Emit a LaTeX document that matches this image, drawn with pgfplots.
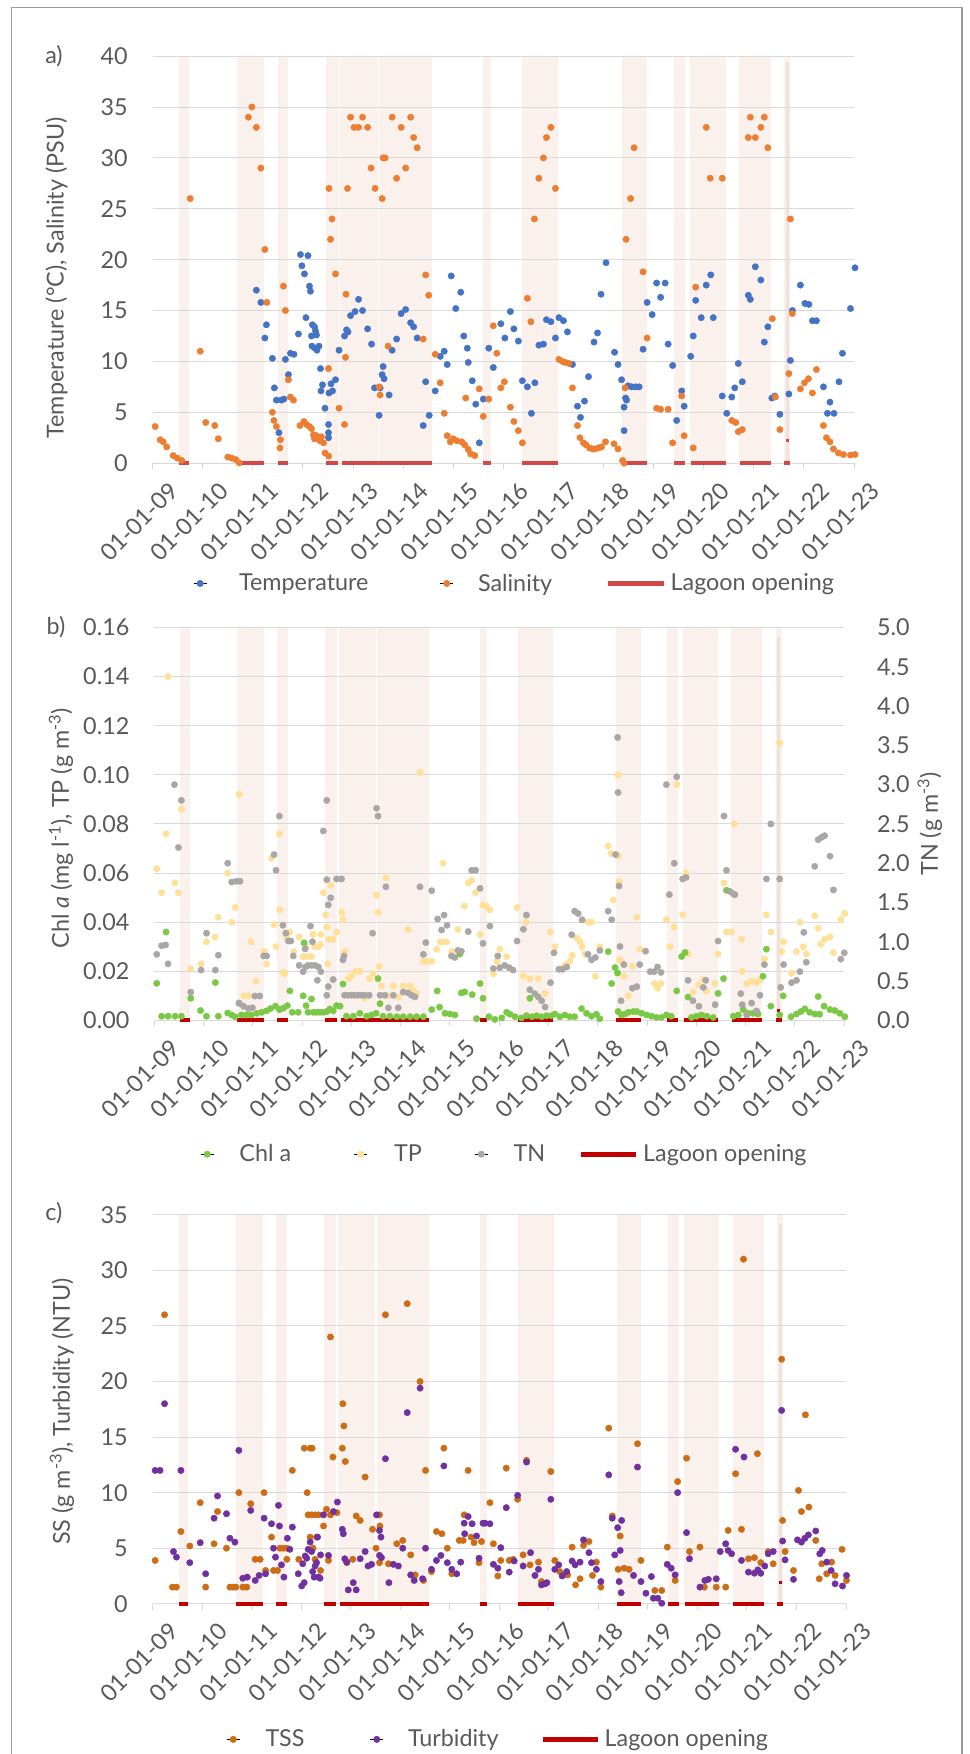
\documentclass[border=0pt]{standalone}
\usepackage{fontspec}
\setmainfont{Lato}
\usepackage{pgfplots}
\pgfplotsset{compat=1.18}
\definecolor{textgray}{RGB}{89,89,89}
\definecolor{gridc}{RGB}{217,217,217}
\definecolor{bandc}{RGB}{250,240,236}
\definecolor{bandd}{RGB}{242,224,218}
\definecolor{blueT}{RGB}{68,114,196}
\definecolor{orangeS}{RGB}{237,125,49}
\definecolor{redA}{RGB}{208,72,72}
\definecolor{redB}{RGB}{192,0,0}
\definecolor{greenC}{RGB}{122,200,70}
\definecolor{yellowP}{RGB}{255,224,150}
\definecolor{grayN}{RGB}{170,166,166}
\definecolor{orangeT}{RGB}{204,108,20}
\definecolor{purpleT}{RGB}{112,48,160}
\definecolor{framec}{RGB}{155,155,155}
\newcommand{\fs}{\fontsize{17.5}{21}\selectfont}
\newcommand{\band}[3]{\addplot[fill=bandc,draw=none,forget plot,on layer=axis background] coordinates {(#1,#3)(#2,#3)} \closedcycle;}
\newcommand{\allbands}[1]{%
\band{2009.53}{2009.72}{#1}\band{2010.68}{2011.22}{#1}\band{2011.50}{2011.71}{#1}%
\band{2012.46}{2012.71}{#1}\band{2012.74}{2013.49}{#1}\band{2013.52}{2014.57}{#1}%
\band{2015.60}{2015.76}{#1}\band{2016.37}{2017.10}{#1}\band{2018.37}{2018.87}{#1}%
\band{2019.41}{2019.63}{#1}\band{2019.73}{2020.44}{#1}\band{2020.71}{2021.34}{#1}%
\band{2021.61}{2021.73}{#1}}
\newcommand{\thinband}[1]{\addplot[fill=bandd,draw=none,forget plot,on layer=axis background] coordinates {(2021.645,#1)(2021.70,#1)} \closedcycle;}
\newcommand{\redline}[1]{\addplot[#1, line width=3pt, forget plot, unbounded coords=jump] coordinates {
(2009.53,0)(2009.72,0)(2009.72,nan)(2010.68,0)(2011.22,0)(2011.22,nan)(2011.50,0)(2011.71,0)(2011.71,nan)
(2012.46,0)(2012.70,0)(2012.70,nan)(2012.78,0)(2014.57,0)(2014.57,nan)(2015.60,0)(2015.76,0)(2015.76,nan)
(2016.37,0)(2017.10,0)(2017.10,nan)(2018.37,0)(2018.87,0)(2018.87,nan)(2019.41,0)(2019.62,0)(2019.62,nan)
(2019.75,0)(2020.44,0)(2020.44,nan)(2020.72,0)(2021.34,0)(2021.34,nan)(2021.61,0)(2021.73,0)};}
\pgfplotsset{
 base/.style={
  scale only axis, anchor=south west, clip=false, set layers=standard,
  xmin=2009, xmax=2023,
  xtick={2009,2010,...,2023},
  xticklabels={01-01-09,01-01-10,01-01-11,01-01-12,01-01-13,01-01-14,01-01-15,01-01-16,01-01-17,01-01-18,01-01-19,01-01-20,01-01-21,01-01-22,01-01-23},
  axis x line*=bottom, axis y line*=left,
  y axis line style={draw=none}, ytick style={draw=none},
  x axis line style={gridc, line width=0.75pt},
  xtick style={gridc, line width=0.75pt},
  tick align=outside, major tick length=4.5pt,
  ymajorgrids, grid style={gridc, line width=0.75pt},
  tick label style={font=\fs, text=textgray},
  label style={font=\fs, text=textgray},
  xticklabel style={rotate=45, anchor=north east, inner sep=0pt, xshift=2pt, yshift=-14pt},
  yticklabel style={anchor=east, inner sep=0pt, xshift=-14pt},
  /pgf/number format/assume math mode=true,
  legend columns=-1, legend cell align=left,
 },
 dot/.style={only marks, mark=*, mark size=2.4pt, color=#1, mark options={solid, fill=#1, draw=#1, line width=0.3pt}},
 leg/.style 2 args={legend style={at={(#1,#2)}, anchor=west, draw=none, fill=none, inner sep=0pt, outer sep=0pt, nodes={inner sep=0pt, text=textgray, font=\fs}}},
}
\newcommand{\dotimg}[1]{\addlegendimage{legend image code/.code={\path (-5pt,0pt) -- (5pt,0pt); \fill[#1] (0pt,0pt) circle (2.4pt);}}}
\newcommand{\lineimg}[2]{\addlegendimage{legend image code/.code={\draw[#1, line width=3.5pt] (0pt,0pt) -- (#2,0pt);}}}
\begin{document}
\begin{tikzpicture}
\draw[framec, line width=1pt] (8.5pt,-2pt) -- (8.5pt,1309.8pt) -- (721.5pt,1309.8pt) -- (721.5pt,-2pt);
% ---------------- panel a
\begin{axis}[base, at={(114.5pt,968.1pt)}, width=526pt, height=305.3pt,
 ymin=0, ymax=40, ytick={0,5,...,40},
 ylabel={Temperature (°C), Salinity (PSU)},
 ylabel style={at={(axis description cs:-0.137,0.455)}, anchor=center},
 leg={0.0579}{-0.2955}]
\allbands{40}
\thinband{39.4}
\dotimg{blueT}\addlegendentry{\makebox[174.5pt][l]{\hspace{24pt}Temperature}}
\dotimg{orangeS}\addlegendentry{\makebox[114.25pt][l]{\hspace{18.25pt}Salinity}}
\lineimg{redA}{42pt}\addlegendentry{\hspace{3pt}Lagoon opening}
\addplot[dot=blueT, forget plot] coordinates {
(2011.07,17.0)(2011.16,15.8)(2011.24,12.3)(2011.27,13.6)(2011.39,10.3)(2011.43,7.4)(2011.47,6.2)(2011.57,6.2)(2011.62,6.3)(2011.52,3.0)(2011.65,10.2)(2011.71,8.7)(2011.75,10.8)(2011.82,10.7)(2011.91,12.7)(2011.95,20.5)(2011.98,19.4)(2012.03,18.6)(2012.06,14.3)(2012.10,20.4)(2012.13,17.4)(2012.15,16.9)(2012.17,12.5)(2012.19,13.6)(2012.23,13.4)(2012.25,13.0)(2012.27,12.6)(2012.18,11.5)(2012.24,11.3)(2012.28,11.1)(2012.32,11.5)(2012.35,9.3)(2012.36,7.1)(2012.39,7.7)(2012.44,5.4)(2012.51,3.8)(2012.51,3.0)(2012.51,2.5)(2012.52,6.9)(2012.56,7.8)(2012.59,7.1)(2012.65,8.2)(2012.72,11.1)(2012.83,12.5)(2012.87,13.1)(2012.90,12.9)(2012.95,14.5)(2013.04,14.9)(2013.11,16.1)(2013.19,15.0)(2013.29,13.2)(2013.37,11.7)(2013.43,7.4)(2013.52,4.7)(2013.54,7.4)(2013.58,8.7)(2013.60,9.5)(2013.62,8.3)(2013.72,6.7)(2013.78,11.1)(2013.87,12.2)(2013.96,14.7)(2014.05,15.1)(2014.15,13.8)(2014.21,13.4)(2014.28,12.3)(2014.40,3.7)(2014.45,8.0)(2014.52,4.7)(2014.64,7.1)(2014.74,10.5)(2014.82,11.0)(2014.88,9.7)(2014.96,18.4)(2015.05,15.2)(2015.15,16.8)(2015.21,12.5)(2015.28,11.3)(2015.30,9.9)(2015.38,8.1)(2015.45,5.8)(2015.52,2.0)(2015.60,6.3)
(2015.71,11.3)(2015.80,9.4)(2015.95,13.7)(2016.03,12.3)(2016.14,14.9)(2016.21,13.2)(2016.30,12.0)(2016.38,8.1)(2016.48,7.5)(2016.63,7.9)(2016.56,4.9)(2016.71,11.6)(2016.80,11.7)(2016.86,14.1)(2016.95,13.9)(2017.04,12.3)(2017.11,14.3)(2017.20,14.0)(2017.28,12.9)(2017.38,9.7)(2017.48,5.6)(2017.54,4.5)(2017.62,6.1)(2017.70,8.5)(2017.81,11.9)(2017.88,12.8)(2017.95,16.6)(2018.05,19.7)(2018.22,10.9)(2018.29,9.7)(2018.36,8.2)(2018.41,3.2)(2018.41,5.5)(2018.44,6.4)(2018.46,6.2)(2018.49,7.6)(2018.56,7.5)(2018.64,7.5)(2018.71,7.5)(2018.79,11.2)(2018.87,15.8)(2018.97,14.6)(2019.06,17.7)(2019.14,16.3)(2019.23,17.7)(2019.29,11.7)(2019.38,9.6)(2019.46,4.2)(2019.56,7.1)(2019.61,5.6)(2019.74,10.5)(2019.79,12.5)(2019.84,16.0)(2019.95,14.3)(2020.05,17.5)(2020.14,18.5)(2020.19,14.3)(2020.37,6.6)(2020.46,4.9)(2020.56,6.5)(2020.62,7.4)(2020.69,9.8)(2020.77,8.0)(2020.89,16.5)(2020.93,16.1)(2021.03,19.3)(2021.14,18.0)(2021.21,11.9)(2021.28,13.4)(2021.36,6.4)(2021.42,6.6)(2021.52,4.8)(2021.70,6.8)(2021.73,10.1)(2021.77,15.0)(2021.93,17.5)(2022.02,15.7)(2022.10,15.6)(2022.17,14.0)(2022.25,14.0)(2022.39,7.5)(2022.47,4.9)(2022.52,6.0)(2022.60,4.9)(2022.70,8.0)(2022.77,10.8)(2022.93,15.2)(2023.02,19.2)};
\addplot[dot=orangeS, forget plot] coordinates {
(2009.05,3.6)(2009.15,2.3)(2009.21,2.1)(2009.28,1.6)(2009.41,0.75)(2009.49,0.5)(2009.58,0.27)(2009.75,26)(2009.95,11)(2010.06,4.0)(2010.24,3.7)(2010.31,2.4)(2010.50,0.6)(2010.58,0.5)(2010.66,0.35)(2010.73,0.03)(2010.91,34)(2010.98,35)(2011.07,33)(2011.16,29)(2011.24,21)(2011.28,15.8)(2011.39,5.0)(2011.42,4.2)(2011.47,3.6)(2011.55,2.3)(2011.54,1.5)(2011.61,17.4)(2011.65,15.0)(2011.71,8.2)(2011.75,6.5)(2011.81,6.2)(2011.94,3.7)(2012.02,4.1)(2012.07,3.8)(2012.13,3.6)(2012.17,3.4)(2012.21,2.8)(2012.23,2.4)(2012.27,2.7)(2012.31,2.4)(2012.34,2.2)(2012.37,2.6)(2012.41,2.0)(2012.44,1.0)(2012.51,0.7)(2012.51,9.3)(2012.52,27)(2012.55,22)(2012.58,24)(2012.65,18.6)(2012.72,5.4)(2012.83,3.8)(2012.85,10.4)(2012.86,16.6)(2012.89,27)(2012.95,34)(2013.02,33)(2013.11,33)(2013.19,34)(2013.29,33)(2013.36,29)(2013.44,27)(2013.52,7.5)(2013.54,6.7)(2013.58,26)(2013.60,30)(2013.64,30)(2013.70,11.5)(2013.78,34)(2013.87,28)(2013.96,33)(2014.05,29)(2014.15,34)(2014.21,32)(2014.28,31)(2014.40,12.2)(2014.45,18.5)(2014.51,16.5)(2014.64,10.7)(2014.74,7.9)(2014.82,4.9)(2014.88,2.7)(2014.94,2.1)(2015.00,2.4)(2015.07,2.2)(2015.17,2.1)(2015.23,1.8)(2015.30,1.35)(2015.35,0.9)(2015.43,0.75)(2015.25,6.4)(2015.52,7.3)(2015.60,4.6)
(2015.71,6.3)(2015.80,13.5)(2015.87,10.8)(2015.95,7.4)(2016.02,8.0)(2016.14,5.5)(2016.21,4.1)(2016.30,3.2)(2016.38,2.0)(2016.48,16.2)(2016.55,13.9)(2016.62,24)(2016.71,28)(2016.80,30)(2016.86,32)(2016.95,33)(2017.04,27)(2017.11,10.2)(2017.18,10.0)(2017.24,9.9)(2017.31,9.8)(2017.38,7.4)(2017.48,3.7)(2017.53,2.5)(2017.60,2.0)(2017.65,1.8)(2017.72,1.5)(2017.78,1.4)(2017.83,1.4)(2017.90,1.5)(2017.96,1.6)(2018.04,2.1)(2018.21,1.9)(2018.29,1.4)(2018.38,0.27)(2018.41,0.0)(2018.43,7.4)(2018.45,22)(2018.54,26)(2018.61,31)(2018.79,18.8)(2018.87,12.3)(2019.06,5.4)(2019.14,5.3)(2019.29,5.3)(2019.38,2.0)(2019.56,6.6)(2019.61,2.7)(2019.79,1.5)(2019.84,17.3)(2020.05,33)(2020.13,28)(2020.37,28)(2020.56,4.2)(2020.64,4.0)(2020.69,3.1)(2020.77,3.3)(2020.89,32)(2020.93,34)(2021.03,32)(2021.14,33)(2021.21,34)(2021.28,31)(2021.37,14.2)(2021.43,6.5)(2021.52,3.3)(2021.70,8.8)(2021.73,24)(2021.77,14.7)(2021.93,7.3)(2022.01,7.9)(2022.09,8.3)(2022.17,6.9)(2022.25,9.2)(2022.39,3.7)(2022.45,2.5)(2022.52,2.1)(2022.59,1.4)(2022.69,1.0)(2022.79,0.85)(2022.93,0.8)(2023.02,0.85)};
\redline{redA}
\addplot[redA, line width=2pt, forget plot] coordinates {(2021.645,2.2)(2021.70,2.2)};
\node[font=\fs, text=textgray] at (axis description cs:-0.1407,1.0) {a)};
\end{axis}
% ---------------- panel b
\begin{axis}[base, at={(115.7pt,550.2pt)}, width=517.5pt, height=294.7pt,
 ymin=0, ymax=0.16, ytick={0,0.02,0.04,0.06,0.08,0.10,0.12,0.14,0.16},
 yticklabel style={/pgf/number format/.cd, fixed, fixed zerofill, precision=2},
 ylabel={Chl \textit{a} (mg l\textsuperscript{-1}), TP (g m\textsuperscript{-3})},
 ylabel style={at={(axis description cs:-0.1352,0.489)}, anchor=center},
 leg={0.0667}{-0.3405}]
\allbands{0.16}
\thinband{0.156}
\dotimg{greenC}\addlegendentry{\makebox[104.75pt][l]{\hspace{19pt}Chl a}}
\dotimg{yellowP}\addlegendentry{\makebox[80pt][l]{\hspace{19.75pt}TP}}
\dotimg{grayN}\addlegendentry{\makebox[67.75pt][l]{\hspace{19pt}TN}}
\lineimg{redB}{41.25pt}\addlegendentry{\hspace{3.75pt}Lagoon opening}
\addplot[dot=yellowP, forget plot] coordinates {
(2009.05,0.0618)(2009.15,0.052)(2009.24,0.076)(2009.28,0.140)(2009.42,0.056)(2009.49,0.052)(2009.55,0.086)(2009.74,0.021)(2009.95,0.023)(2010.06,0.032)(2010.23,0.034)(2010.30,0.042)(2010.49,0.060)(2010.57,0.040)(2010.64,0.046)(2010.72,0.092)(2010.82,0.010)(2010.91,0.010)(2010.96,0.032)(2011.06,0.016)(2011.23,0.028)(2011.28,0.023)(2011.38,0.066)(2011.43,0.039)(2011.47,0.030)(2011.54,0.076)(2011.55,0.045)(2011.62,0.0196)(2011.65,0.019)(2011.68,0.034)(2011.75,0.036)(2011.83,0.028)(2011.94,0.034)(2012.02,0.026)(2012.05,0.026)(2012.08,0.030)(2012.12,0.026)(2012.19,0.026)(2012.22,0.035)(2012.26,0.030)(2012.33,0.030)(2012.37,0.031)(2012.38,0.035)(2012.43,0.052)(2012.48,0.043)(2012.50,0.038)(2012.52,0.023)(2012.54,0.033)(2012.58,0.055)(2012.63,0.033)(2012.70,0.036)(2012.80,0.044)(2012.83,0.041)(2012.87,0.028)(2012.94,0.017)(2013.00,0.018)(2013.09,0.020)(2013.17,0.020)(2013.27,0.009)(2013.37,0.017)(2013.44,0.019)(2013.51,0.051)(2013.54,0.044)(2013.56,0.022)(2013.61,0.014)(2013.70,0.058)(2013.75,0.010)(2013.85,0.014)(2013.95,0.0095)(2014.05,0.014)(2014.15,0.037)(2014.19,0.014)(2014.25,0.012)(2014.32,0.011)(2014.39,0.101)(2014.46,0.024)(2014.53,0.024)(2014.63,0.024)(2014.73,0.029)(2014.80,0.032)(2014.86,0.064)(2014.87,0.032)(2014.93,0.032)(2015.03,0.028)(2015.16,0.037)(2015.29,0.0465)(2015.37,0.056)(2015.44,0.057)(2015.52,0.052)(2015.61,0.035)(2015.67,0.047)
(2015.74,0.0465)(2015.81,0.045)(2015.88,0.019)(2015.95,0.024)(2016.01,0.029)(2016.15,0.026)(2016.22,0.021)(2016.36,0.046)(2016.49,0.018)(2016.55,0.040)(2016.62,0.017)(2016.79,0.017)(2016.93,0.011)(2017.04,0.036)(2017.13,0.030)(2017.33,0.0225)(2017.43,0.024)(2017.48,0.0265)(2017.57,0.0335)(2017.64,0.032)(2017.68,0.030)(2017.74,0.027)(2017.80,0.040)(2017.87,0.040)(2017.95,0.018)(2018.04,0.030)(2018.21,0.071)(2018.27,0.068)(2018.31,0.049)(2018.41,0.100)(2018.42,0.067)(2018.43,0.0565)(2018.44,0.0247)(2018.48,0.024)(2018.53,0.018)(2018.62,0.010)(2018.70,0.022)(2018.79,0.042)(2018.85,0.029)(2019.15,0.015)(2019.21,0.013)(2019.28,0.015)(2019.39,0.041)(2019.46,0.030)(2019.55,0.038)(2019.60,0.096)(2019.72,0.043)(2019.79,0.060)(2019.83,0.027)(2019.93,0.0116)(2020.04,0.0145)(2020.14,0.0167)(2020.20,0.012)(2020.38,0.015)(2020.44,0.027)(2020.56,0.056)(2020.61,0.036)(2020.71,0.036)(2020.77,0.080)(2020.92,0.033)(2020.93,0.020)(2021.02,0.015)(2021.12,0.016)(2021.22,0.0155)(2021.29,0.0165)(2021.38,0.025)(2021.42,0.043)(2021.51,0.036)(2021.69,0.113)(2021.73,0.028)(2021.77,0.032)(2021.93,0.0192)(2022.03,0.028)(2022.10,0.040)(2022.17,0.030)(2022.23,0.027)(2022.40,0.0426)(2022.47,0.0375)(2022.52,0.031)(2022.60,0.033)(2022.71,0.034)(2022.78,0.0276)(2022.93,0.041)(2023.01,0.0436)};
\addplot[dot=greenC, forget plot] coordinates {
(2009.05,0.0151)(2009.15,0.0017)(2009.24,0.036)(2009.28,0.0017)(2009.42,0.0017)(2009.55,0.0017)(2009.74,0.009)(2009.94,0.004)(2010.06,0.0017)(2010.24,0.0154)(2010.30,0.0017)(2010.49,0.003)(2010.57,0.0022)(2010.64,0.0015)(2010.72,0.007)(2010.77,0.0022)(2010.87,0.0022)(2010.97,0.0022)(2011.08,0.0029)(2011.18,0.0033)(2011.28,0.0039)(2011.36,0.0048)(2011.46,0.0058)(2011.54,0.0044)(2011.62,0.005)(2011.70,0.006)(2011.75,0.012)(2011.80,0.0033)(2011.92,0.0033)(2012.02,0.010)(2012.04,0.0316)(2012.08,0.006)(2012.12,0.0033)(2012.19,0.0087)(2012.23,0.0033)(2012.29,0.0033)(2012.36,0.0033)(2012.43,0.0033)(2012.50,0.0036)(2012.56,0.0046)(2012.63,0.0039)(2012.70,0.006)(2012.77,0.0058)(2012.83,0.0148)(2012.90,0.0017)(2013.04,0.0017)(2013.17,0.0029)(2013.31,0.0017)(2013.41,0.0022)(2013.50,0.0029)(2013.54,0.017)(2013.58,0.0068)(2013.64,0.0017)(2013.78,0.0017)(2013.92,0.0015)(2014.05,0.0015)(2014.19,0.0015)(2014.32,0.0015)(2014.46,0.0015)(2014.63,0.0044)(2014.74,0.012)(2014.79,0.0054)(2014.90,0.0029)(2015.00,0.0026)(2015.10,0.0022)(2015.20,0.027)(2015.23,0.0112)(2015.30,0.0116)(2015.45,0.0105)(2015.54,0.0007)(2015.61,0.015)(2015.67,0.009)
(2015.79,0.0015)(2015.91,0.0004)(2016.05,0.001)(2016.15,0.0033)(2016.22,0.0025)(2016.32,0.0015)(2016.45,0.001)(2016.55,0.0019)(2016.62,0.009)(2016.66,0.0015)(2016.76,0.0019)(2016.86,0.0015)(2016.96,0.0019)(2017.06,0.0019)(2017.13,0.0026)(2017.23,0.0015)(2017.33,0.0022)(2017.43,0.0015)(2017.53,0.0015)(2017.67,0.0048)(2017.77,0.0029)(2017.87,0.0017)(2017.97,0.0025)(2018.04,0.0007)(2018.21,0.028)(2018.28,0.015)(2018.35,0.0215)(2018.40,0.0193)(2018.41,0.0036)(2018.48,0.0022)(2018.55,0.0026)(2018.62,0.0033)(2018.72,0.0036)(2018.79,0.0036)(2018.89,0.0029)(2018.99,0.0022)(2019.09,0.0017)(2019.19,0.0012)(2019.29,0.0012)(2019.39,0.0022)(2019.49,0.0017)(2019.60,0.012)(2019.70,0.026)(2019.77,0.0277)(2019.83,0.0095)(2019.90,0.0012)(2020.00,0.0017)(2020.10,0.0022)(2020.21,0.0017)(2020.34,0.0012)(2020.44,0.011)(2020.55,0.017)(2020.61,0.053)(2020.75,0.0017)(2020.85,0.0022)(2020.95,0.0044)(2021.05,0.0029)(2021.15,0.0029)(2021.25,0.0026)(2021.35,0.018)(2021.42,0.029)(2021.51,0.0058)(2021.69,0.0022)(2021.76,0.010)(2021.92,0.0015)(2022.03,0.0026)(2022.12,0.0036)(2022.20,0.0047)(2022.30,0.0033)(2022.40,0.0026)(2022.47,0.0097)(2022.50,0.0025)(2022.59,0.0058)(2022.71,0.0044)(2022.81,0.004)(2022.91,0.0029)(2023.01,0.0015)};
\redline{redB}
\addplot[redB, line width=2pt, forget plot] coordinates {(2021.645,0.004)(2021.70,0.004)};
\node[font=\fs, text=textgray] at (axis description cs:-0.1425,1.0) {b)};
\end{axis}
\begin{axis}[scale only axis, anchor=south west, clip=false,
 at={(115.7pt,550.2pt)}, width=517.5pt, height=294.7pt,
 xmin=2009, xmax=2023, hide x axis,
 axis y line*=right, y axis line style={draw=none}, ytick style={draw=none},
 ymin=0, ymax=5, ytick={0,0.5,1,1.5,2,2.5,3,3.5,4,4.5,5},
 tick align=outside, major tick length=4.5pt,
 tick label style={font=\fs, text=textgray},
 yticklabel style={anchor=west, inner sep=0pt, xshift=20pt, /pgf/number format/.cd, fixed, fixed zerofill, precision=1, assume math mode=true},
 ylabel={TN (g m\textsuperscript{-3})},
 ylabel style={font=\fs, text=textgray, at={(axis description cs:1.124,0.5)}, anchor=center}]
\addplot[dot=grayN] coordinates {
(2009.05,0.84)(2009.15,0.95)(2009.23,0.96)(2009.28,0.72)(2009.41,3.0)(2009.49,2.2)(2009.55,2.8)(2009.74,0.36)(2009.95,0.64)(2010.06,1.11)(2010.24,0.64)(2010.30,0.83)(2010.49,2.0)(2010.57,1.76)(2010.66,1.77)(2010.74,1.77)(2010.72,0.22)(2010.81,0.18)(2010.91,0.15)(2010.99,0.16)(2011.04,0.31)(2011.14,0.31)(2011.22,0.82)(2011.28,0.82)(2011.43,2.11)(2011.47,1.91)(2011.54,2.6)(2011.61,1.21)(2011.67,1.11)(2011.72,1.01)(2011.77,1.01)(2011.82,0.82)(2011.94,0.70)(2012.02,0.62)(2012.06,0.91)(2012.07,0.68)(2012.12,0.70)(2012.17,1.20)(2012.19,0.70)(2012.21,1.00)(2012.26,0.70)(2012.31,0.51)(2012.33,0.68)(2012.38,0.62)(2012.43,2.41)(2012.50,2.8)(2012.50,1.79)(2012.53,1.47)(2012.58,1.56)(2012.50,0.32)(2012.53,0.43)(2012.63,0.52)(2012.70,1.80)(2012.80,1.80)(2012.83,0.77)(2012.85,0.82)(2012.86,0.32)(2012.93,0.32)(2013.00,0.32)(2013.06,0.32)(2013.13,0.32)(2013.20,0.32)(2013.27,0.32)(2013.36,0.32)(2013.43,1.11)(2013.51,2.70)(2013.54,2.60)(2013.58,0.32)(2013.68,0.32)(2013.70,1.70)(2013.75,0.16)(2013.85,0.32)(2013.95,0.16)(2014.05,0.36)(2014.15,0.35)(2014.22,0.32)(2014.29,0.30)(2014.39,1.70)(2014.46,0.84)(2014.51,0.99)(2014.63,1.65)(2014.75,1.29)(2014.83,1.15)(2014.88,1.34)(2014.94,1.21)(2015.03,0.82)(2015.10,0.80)(2015.16,0.89)(2015.23,0.88)(2015.37,1.13)(2015.44,1.91)(2015.52,1.91)(2015.61,1.68)(2015.67,0.98)
(2015.81,1.20)(2015.88,0.66)(2015.97,0.82)(2016.01,0.67)(2016.11,0.70)(2016.20,0.67)(2016.28,0.64)(2016.36,1.01)(2016.49,1.16)(2016.55,1.34)(2016.62,0.39)(2016.72,0.34)(2016.79,0.30)(2016.86,0.25)(2016.93,0.17)(2017.04,0.48)(2017.11,0.86)(2017.21,0.65)(2017.28,0.65)(2017.37,0.68)(2017.47,1.09)(2017.53,1.39)(2017.60,1.36)(2017.68,1.28)(2017.80,0.84)(2017.87,0.77)(2017.95,0.80)(2018.04,0.89)(2018.21,1.39)(2018.28,1.28)(2018.36,2.11)(2018.40,3.6)(2018.41,2.9)(2018.43,1.71)(2018.45,0.94)(2018.47,0.25)(2018.53,0.71)(2018.70,0.41)(2018.79,0.43)(2018.85,0.71)(2018.97,0.88)(2019.06,0.62)(2019.14,0.62)(2019.21,0.68)(2019.28,0.61)(2019.39,3.0)(2019.45,1.6)(2019.55,2.0)(2019.60,3.1)(2019.72,1.80)(2019.79,1.82)(2019.83,0.51)(2019.93,0.25)(2020.05,0.18)(2020.14,0.42)(2020.19,0.51)(2020.38,0.20)(2020.44,1.01)(2020.56,2.60)(2020.61,1.91)(2020.68,1.64)(2020.75,1.61)(2020.78,1.60)(2020.90,0.34)(2020.93,0.20)(2021.02,0.07)(2021.12,0.22)(2021.22,0.12)(2021.29,0.32)(2021.38,0.71)(2021.42,1.80)(2021.51,2.5)(2021.69,1.80)(2021.71,0.42)(2021.77,0.71)(2021.93,0.48)(2022.03,0.51)(2022.10,0.62)(2022.18,1.12)(2022.23,0.74)(2022.40,1.96)(2022.47,2.30)(2022.54,2.33)(2022.60,2.35)(2022.71,2.09)(2022.78,1.66)(2022.93,0.78)(2023.00,0.86)};
\end{axis}
% ---------------- panel c
\begin{axis}[base, at={(114.5pt,112.65pt)}, width=520pt, height=291.8pt,
 ymin=0, ymax=35, ytick={0,5,...,35},
 ylabel={SS (g m\textsuperscript{-3}), Turbidity (NTU)},
 ylabel style={at={(axis description cs:-0.1308,0.494)}, anchor=center},
 leg={0.1062}{-0.3485}]
\allbands{35}
\thinband{34.3}
\dotimg{orangeT}\addlegendentry{\makebox[97.25pt][l]{\hspace{19pt}TSS}}
\dotimg{purpleT}\addlegendentry{\makebox[118pt][l]{\hspace{18.25pt}Turbidity}}
\lineimg{redB}{41.25pt}\addlegendentry{\hspace{3pt}Lagoon opening}
\addplot[dot=orangeT, forget plot] coordinates {
(2009.05,3.9)(2009.24,26)(2009.40,1.5)(2009.48,1.5)(2009.57,6.5)(2009.75,5.2)(2009.96,9.1)(2010.07,1.5)(2010.24,5.4)(2010.31,8.3)(2010.49,5.0)(2010.56,1.5)(2010.62,1.5)(2010.68,1.5)(2010.74,10)(2010.82,1.5)(2010.90,1.5)(2010.98,9.0)(2011.07,4.0)(2011.17,4.0)(2011.25,10)(2011.28,3.0)(2011.40,6.0)(2011.44,3.0)(2011.52,3.0)(2011.57,5.0)(2011.64,5.0)(2011.71,5.0)(2011.71,4.0)(2011.82,12)(2011.95,4.0)(2012.06,14)(2012.18,14)(2012.22,14)(2012.12,10)(2012.14,8.0)(2012.21,8.0)(2012.28,8.0)(2012.35,8.0)(2012.18,6.0)(2012.31,6.0)(2012.24,5.0)(2012.28,4.0)(2012.39,3.0)(2012.45,7.0)(2012.51,8.5)(2012.59,8.0)(2012.55,3.9)(2012.59,24)(2012.64,13.2)(2012.72,8.2)(2012.84,18)(2012.86,16)(2012.83,14)(2012.89,12.8)(2012.92,3.7)(2013.04,4.0)(2013.11,7.9)(2013.19,7.5)(2013.29,11.4)(2013.44,6.7)(2013.51,5.0)(2013.58,8.0)(2013.59,7.0)(2013.58,3.7)(2013.70,26)(2013.76,3.6)(2013.93,5.4)(2014.05,5.7)(2014.14,27)(2014.21,4.4)(2014.30,2.6)(2014.40,20)(2014.47,2.1)(2014.51,12)(2014.63,2.9)(2014.73,6.5)(2014.84,6.3)(2014.88,14)(2014.95,5.0)(2015.04,2.7)(2015.19,5.7)(2015.27,5.7)(2015.29,8.0)(2015.37,12)(2015.43,6.0)(2015.49,5.5)(2015.59,3.7)(2015.64,5.6)
(2015.81,9.1)(2015.88,5.4)(2015.97,2.5)(2016.03,3.9)(2016.14,12.2)(2016.20,3.9)(2016.28,4.0)(2016.37,9.4)(2016.48,4.4)(2016.55,12.9)(2016.62,3.5)(2016.79,3.75)(2016.85,2.0)(2016.92,1.8)(2017.04,11.9)(2017.12,3.9)(2017.22,2.9)(2017.29,2.6)(2017.38,2.6)(2017.47,5.1)(2017.54,1.7)(2017.63,2.25)(2017.70,5.25)(2017.81,5.6)(2017.88,2.55)(2017.96,3.75)(2018.05,1.5)(2018.21,15.8)(2018.28,7.9)(2018.44,6.1)(2018.40,3.1)(2018.52,3.2)(2018.62,3.1)(2018.79,14.4)(2018.86,3.9)(2019.14,1.2)(2019.28,1.2)(2019.39,5.1)(2019.55,2.1)(2019.60,11.0)(2019.78,13.1)(2019.84,4.7)(2020.05,5.1)(2020.14,1.5)(2020.38,1.5)(2020.57,1.5)(2020.62,6.6)(2020.77,11.7)(2020.89,6.7)(2020.93,31)(2021.03,4.05)(2021.15,4.15)(2021.21,13.5)(2021.28,3.7)(2021.43,4.7)(2021.53,3.6)(2021.70,22)(2021.72,7.5)(2021.77,4.7)(2021.94,3.0)(2022.04,10.2)(2022.10,8.3)(2022.18,17)(2022.25,8.7)(2022.39,5.7)(2022.46,2.25)(2022.51,3.6)(2022.61,2.7)(2022.71,3.75)(2022.78,2.55)(2022.92,4.9)(2023.01,2.1)};
\addplot[dot=purpleT, forget plot] coordinates {
(2009.05,12)(2009.15,12)(2009.24,18)(2009.42,4.7)(2009.48,4.2)(2009.57,12)(2009.75,3.7)(2009.96,5.5)(2010.07,2.7)(2010.24,7.7)(2010.31,9.7)(2010.49,8.1)(2010.56,5.9)(2010.66,5.55)(2010.74,13.8)(2010.82,2.3)(2010.91,2.4)(2010.98,8.4)(2011.07,2.1)(2011.15,2.55)(2011.25,7.7)(2011.28,2.7)(2011.40,7.2)(2011.44,5.0)(2011.48,4.2)(2011.54,8.85)(2011.56,7.0)(2011.60,3.5)(2011.65,2.4)(2011.72,5.9)(2011.77,4.9)(2011.82,6.9)(2011.94,2.7)(2012.01,1.6)(2012.06,1.9)(2012.03,3.6)(2012.08,4.3)(2012.11,4.1)(2012.14,4.9)(2012.18,5.55)(2012.21,4.7)(2012.23,2.9)(2012.26,2.4)(2012.28,3.4)(2012.31,3.7)(2012.33,6.0)(2012.35,2.4)(2012.38,2.3)(2012.39,4.4)(2012.45,8.0)(2012.55,4.35)(2012.65,8.3)(2012.73,9.15)(2012.83,6.7)(2012.85,6.3)(2012.88,4.05)(2012.92,3.75)(2012.95,1.25)(2013.05,1.9)(2013.11,1.25)(2013.19,4.05)(2013.29,4.7)(2013.35,3.4)(2013.42,3.55)(2013.52,8.0)(2013.58,6.6)(2013.61,6.0)(2013.58,4.35)(2013.62,4.15)(2013.70,13.05)(2013.77,1.9)(2013.86,3.55)(2013.96,3.4)(2014.05,5.0)(2014.14,17.2)(2014.21,2.6)(2014.28,2.1)(2014.40,19.4)(2014.45,2.25)(2014.51,5.0)(2014.63,3.1)(2014.73,3.9)(2014.82,4.35)(2014.88,12.4)(2014.95,3.7)(2015.04,3.1)(2015.14,2.7)(2015.22,3.75)(2015.29,7.25)(2015.30,6.3)(2015.37,7.85)(2015.45,7.2)(2015.54,6.1)(2015.59,4.1)(2015.67,7.25)
(2015.71,7.25)(2015.81,7.2)(2015.88,3.55)(2015.97,3.2)(2016.03,5.05)(2016.14,8.65)(2016.20,2.85)(2016.30,3.85)(2016.37,9.75)(2016.48,3.4)(2016.55,12.75)(2016.63,4.6)(2016.72,2.55)(2016.79,3.1)(2016.85,1.7)(2016.92,1.8)(2016.96,1.9)(2017.04,9.4)(2017.12,3.1)(2017.20,3.5)(2017.27,2.5)(2017.36,2.9)(2017.47,3.85)(2017.53,3.5)(2017.63,3.75)(2017.70,5.75)(2017.81,4.6)(2017.86,3.7)(2017.96,3.1)(2018.05,2.0)(2018.21,11.6)(2018.28,7.7)(2018.33,4.4)(2018.39,6.85)(2018.47,7.5)(2018.44,4.8)(2018.42,2.0)(2018.46,1.0)(2018.71,2.55)(2018.79,12.3)(2018.86,2.0)(2018.96,0.95)(2019.07,2.45)(2019.11,0.5)(2019.20,0.5)(2019.28,0.05)(2019.39,3.55)(2019.47,3.2)(2019.55,2.6)(2019.60,10)(2019.78,6.4)(2019.84,4.05)(2020.05,1.5)(2020.15,2.1)(2020.22,2.2)(2020.38,2.25)(2020.46,4.7)(2020.57,5.4)(2020.62,4.8)(2020.69,4.5)(2020.77,13.9)(2020.89,3.9)(2020.94,13.2)(2021.03,2.85)(2021.15,2.75)(2021.22,3.05)(2021.28,2.75)(2021.36,3.4)(2021.43,4.5)(2021.53,4.7)(2021.70,17.4)(2021.72,5.65)(2021.77,3.95)(2021.94,2.2)(2022.02,5.75)(2022.10,5.55)(2022.17,5.9)(2022.24,6.2)(2022.39,6.55)(2022.47,4.5)(2022.52,4.8)(2022.61,3.75)(2022.70,3.0)(2022.78,1.8)(2022.93,1.6)(2023.01,2.55)};
\redline{redB}
\addplot[redB, line width=2pt, forget plot] coordinates {(2021.645,1.9)(2021.70,1.9)};
\node[font=\fs, text=textgray] at (axis description cs:-0.1424,1.005) {c)};
\end{axis}
\pgfresetboundingbox
\path[use as bounding box] (0,0) rectangle (727.5pt,1315.5pt);
\end{tikzpicture}
\end{document}
